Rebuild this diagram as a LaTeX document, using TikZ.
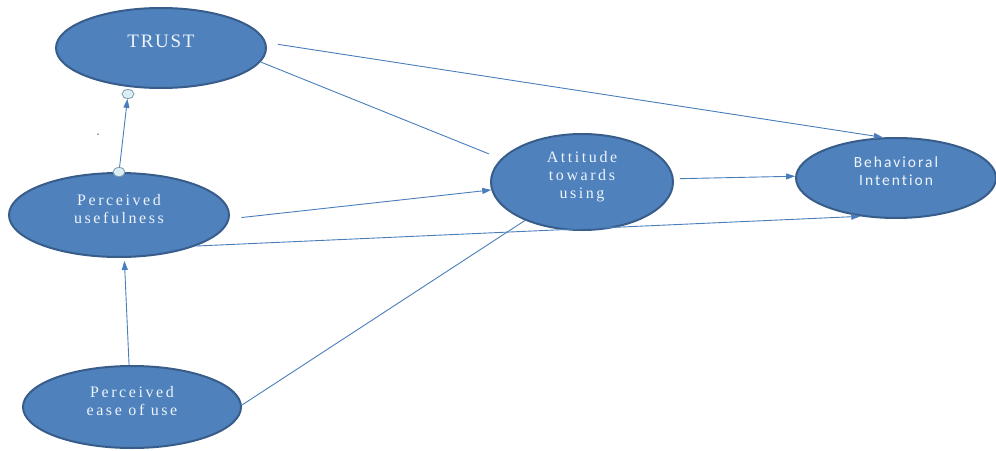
\documentclass[tikz,border=0pt]{standalone}
\usepackage{fontspec}
\setmainfont{Liberation Serif}
\newfontfamily\capfont[LetterSpace=16]{Liberation Serif}
\newfontfamily\trustfont[LetterSpace=9]{Liberation Serif}
\newfontfamily\bifont[LetterSpace=13,Ligatures=NoCommon]{Carlito}
\usetikzlibrary{shapes.geometric,arrows.meta}
\definecolor{factorfill}{HTML}{4F81BD}
\definecolor{factordraw}{HTML}{385D8A}
\definecolor{linkcol}{HTML}{4A7EBB}
\definecolor{handlefill}{HTML}{DAEEF3}
\definecolor{handledraw}{HTML}{7F98AD}
\definecolor{captioncol}{HTML}{EEF4FB}
\tikzset{
  factor/.style={ellipse,fill=factorfill,draw=factordraw,line width=2pt,inner sep=0pt},
  caption/.style={text=captioncol,align=center,inner sep=0pt,font=\capfont\fontsize{16}{18}\selectfont},
  handle/.style={ellipse,fill=handlefill,draw=handledraw,line width=0.8pt,minimum width=12pt,minimum height=9pt,inner sep=0pt},
  link/.style={draw=linkcol,line width=0.9pt},
  arrowed/.style={-{Triangle[length=9pt,width=6pt]}},
}
\begin{document}
\begin{tikzpicture}[x=1pt,y=-1pt]
   \useasboundingbox (0,0) rectangle (996,450);
   \begin{scope}[every node/.style={factor}]
    \node[minimum width=210pt,minimum height=80pt] (trust) at (161,48) {};
    \node[minimum width=220pt,minimum height=84pt] (pu) at (119,215) {};
    \node[minimum width=218pt,minimum height=82pt] (peou) at (132,407) {};
    \node[minimum width=182pt,minimum height=96pt] (att) at (582,182) {};
    \node[minimum width=200pt,minimum height=80pt] (bi) at (896,178) {};
   \end{scope}
   % captions
   \node[caption,font=\trustfont\fontsize{19}{20}\selectfont] (trust-l) at ([yshift=7pt]trust.center) {TRUST};
   \node[caption] (pu-l) at ([yshift=6pt]pu.center) {Perceived\\usefulness};
   \node[caption] (peou-l) at ([yshift=6pt]peou.center) {Perceived\\ease of use};
   \node[caption] (att-l) at ([yshift=5pt]att.center) {Attitude\\towards\\using};
   \node[caption,font=\bifont\fontsize{15.5}{17.6}\selectfont] (bi-l) at ([yshift=7pt]bi.center) {Behavioral\\Intention};
   % handles of the trust link
   \node[handle] (h-top) at (128,94) {};
   \node[handle] (h-bot) at (119,172) {};
   \node[circle,fill=black!80,minimum size=1.5pt,inner sep=0pt] (speck) at (98,134) {};
   \begin{scope}[every edge/.style={link}]
    \draw  (h-bot) edge[arrowed] (h-top);
    \draw  (trust.3) edge[arrowed,shorten <=12pt] (bi.108);
    \draw  (trust.-8) edge[shorten >=13pt] (att.164);
    \draw  (pu.-2) edge[arrowed,shorten <=12pt] (att.185);
    \draw  (pu.-22) edge[arrowed] (bi.227);
    \draw  (peou.94) edge[arrowed,shorten >=3pt] (pu.-83);
    \draw  (peou.1) edge (att.214);
    \draw  (att.2) edge[arrowed,shorten <=6pt] (bi.179);
   \end{scope}
\end{tikzpicture}
\end{document}
